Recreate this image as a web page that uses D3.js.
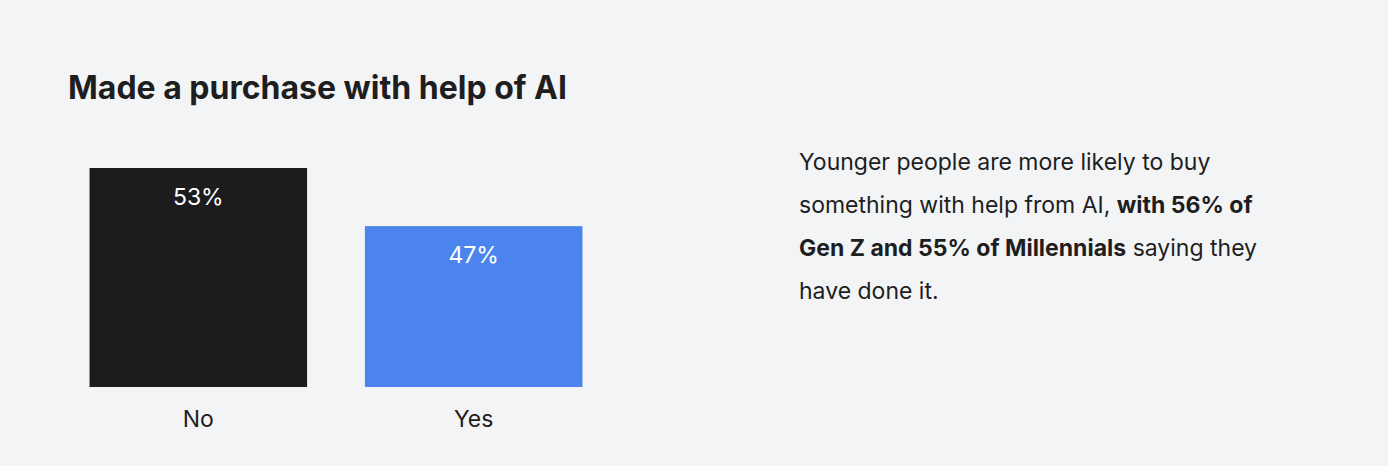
<!DOCTYPE html><html><head><meta charset="utf-8"><script src="https://cdn.jsdelivr.net/npm/d3@7"></script>
<style>body{margin:0;background:#f3f4f6;font-family:Inter,sans-serif}</style></head><body>
<svg id="c" width="1388" height="466"></svg>
<script>
const categories=["No","Yes"];
const values=[53,47];
const colors=["#1c1c1e","#4b84ec"];
const svg=d3.select("#c");
svg.append("rect").attr("width",1388).attr("height",466).attr("fill","#f3f4f6");
svg.append("text").attr("x",68).attr("y",99).attr("font-size",32).attr("font-weight",700).attr("fill","#1e1e1e").text("Made a purchase with help of AI");
const x=d3.scaleBand().domain(categories).range([62,610]).paddingInner(0.21).paddingOuter(0.1);
const y=d3.scaleLinear().domain([30.4,53]).range([387,168]);
const g=svg.append("g");
g.selectAll("rect.b").data(values).join("rect").attr("x",(d,i)=>x(categories[i])).attr("width",x.bandwidth())
 .attr("y",d=>y(d)).attr("height",d=>387-y(d)).attr("fill",(d,i)=>colors[i]);
g.selectAll("text.v").data(values).join("text").attr("x",(d,i)=>x(categories[i])+x.bandwidth()/2).attr("y",d=>y(d)+37)
 .attr("text-anchor","middle").attr("fill","#fff").attr("font-size",23).text(d=>d+"%");
g.selectAll("text.c").data(categories).join("text").attr("x",d=>x(d)+x.bandwidth()/2).attr("y",427)
 .attr("text-anchor","middle").attr("fill","#1e1e1e").attr("font-size",23).text(d=>d);
const lines=[[["Younger people are more likely to buy",0]],[["something with help from AI, ",0],["with 56% of",1]],[["Gen Z and 55% of Millennials",1],[" saying they",0]],[["have done it.",0]]];
lines.forEach((l,i)=>{const t=svg.append("text").attr("x",799).attr("y",170+i*43).attr("font-size",23).attr("fill","#1e1e1e");
 l.forEach(([s,b])=>t.append("tspan").attr("font-weight",b?700:400).text(s));});
</script></body></html>
